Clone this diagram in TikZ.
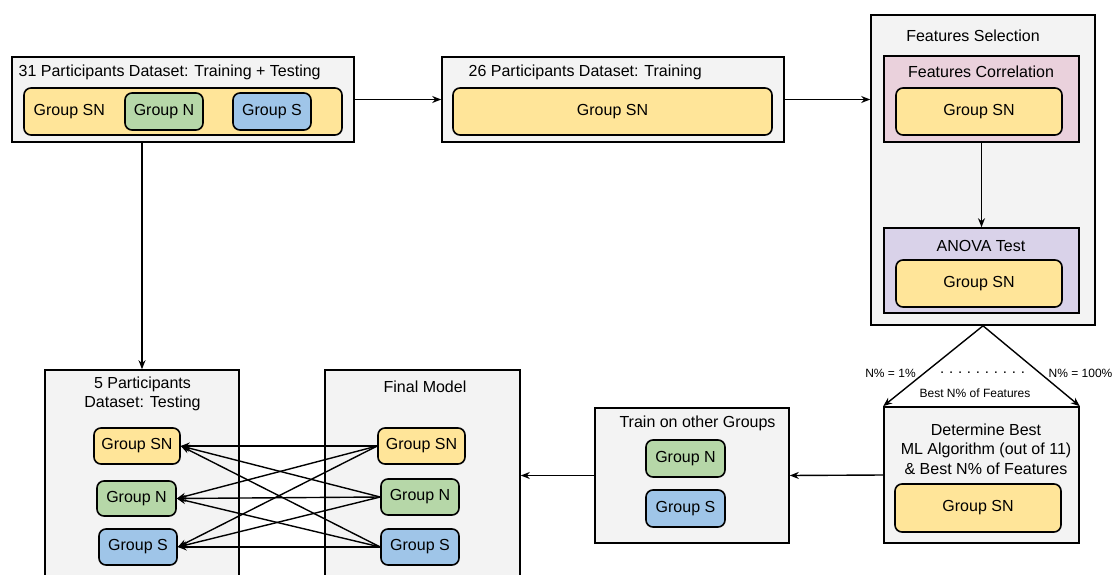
\documentclass[tikz,border=0pt]{standalone}
\usepackage{fontspec}
\setmainfont{Liberation Sans}
\usetikzlibrary{arrows.meta}
\definecolor{panelgray}{HTML}{F3F3F3}
\definecolor{snyellow}{HTML}{FFE599}
\definecolor{ngreen}{HTML}{B6D7A8}
\definecolor{sblue}{HTML}{9FC5E8}
\definecolor{corrpink}{HTML}{EAD1DC}
\definecolor{anovapurple}{HTML}{D9D2E9}
\tikzset{
  panel/.style={draw, fill=panelgray, line width=1.6pt, inner sep=0pt},
  grp/.style={draw, rounded corners=7pt, line width=1.6pt, inner sep=0pt},
  grpsn/.style={grp, fill=snyellow},
  grpn/.style={grp, fill=ngreen},
  grps/.style={grp, fill=sblue},
  small/.style={font=\fontsize{12}{14}\selectfont},
}

\begin{document}
\begin{tikzpicture}[x=1pt,y=-1pt,>={Stealth[length=9pt,width=7pt]},line width=1.4pt,font=\fontsize{16}{19.5}\selectfont]
  \clip (0,0) rectangle (1116,575);

  % 31 participants: training + testing
  \node[panel, minimum width=342, minimum height=85] (all) at (183,99.5) {};
  \node[anchor=west, inner sep=0pt] (alltitle) at (18,72) {31 Participants Dataset: Training + Testing};
  \node[grpsn, minimum width=318, minimum height=47] (allsn) at (183,111.5) {};
  \node[anchor=west, inner sep=0pt] (allsnlabel) at (33,111.5) {Group SN};
  \node[grpn, minimum width=78, minimum height=37] (alln) at (164,111.5) {Group N};
  \node[grps, minimum width=78, minimum height=37] (alls) at (272,111.5) {Group S};

  % 26 participants: training
  \node[panel, minimum width=342, minimum height=85] (train) at (613,99.5) {};
  \node[anchor=west, inner sep=0pt] (traintitle) at (468,72.5) {26 Participants Dataset: Training};
  \node[grpsn, minimum width=319, minimum height=47] (trainsn) at (612.5,111.5) {Group SN};

  % features selection
  \node[panel, minimum width=224, minimum height=310] (fs) at (983,170) {};
  \node (fstitle) at (973,36) {Features Selection};
  \node[panel, fill=corrpink, minimum width=195, minimum height=86] (corr) at (981.5,99) {};
  \node (corrtitle) at (981,72) {Features Correlation};
  \node[grpsn, minimum width=166, minimum height=47] (corrsn) at (979,111.5) {Group SN};
  \node[panel, fill=anovapurple, minimum width=195, minimum height=85] (anova) at (981.5,270.5) {};
  \node (anovatitle) at (981,245.5) {ANOVA Test};
  \node[grpsn, minimum width=166, minimum height=47] (anovasn) at (979,283.5) {Group SN};

  % best algorithm and features
  \node[panel, minimum width=195, minimum height=136] (best) at (981.5,475) {};
  \node[align=center, inner sep=0pt] (besttitle) at (986,449) {Determine Best\\ML Algorithm (out of 11)\\\& Best N\% of Features};
  \node[grpsn, minimum width=166, minimum height=48] (bestsn) at (978,508) {Group SN};

  % train on other groups
  \node[panel, minimum width=194, minimum height=135] (other) at (692,475.5) {};
  \node (othertitle) at (697.5,423) {Train on other Groups};
  \node[grpn, minimum width=79, minimum height=37] (othern) at (685.5,458.5) {Group N};
  \node[grps, minimum width=79, minimum height=37] (others) at (685.5,508.5) {Group S};

  % final model and testing
  \node[panel, minimum width=195, minimum height=230] (final) at (422.5,485) {};
  \node (finaltitle) at (425,387) {Final Model};
  \node[grpsn, minimum width=87, minimum height=36] (msn) at (421.5,446) {Group SN};
  \node[grpn, minimum width=78, minimum height=36] (mn) at (420,497) {Group N};
  \node[grps, minimum width=78, minimum height=36] (ms) at (420,547) {Group S};

  \node[panel, minimum width=194, minimum height=230] (test) at (142,485) {};
  \node[align=center, inner sep=0pt] (testtitle) at (142.5,394) {5 Participants\\Dataset: Testing};
  \node[grpsn, minimum width=86, minimum height=36] (tsn) at (137,446) {Group SN};
  \node[grpn, minimum width=79, minimum height=35] (tn) at (136.5,498.5) {Group N};
  \node[grps, minimum width=78, minimum height=36] (ts) at (138,547) {Group S};

  % labels of the N% split
  \node[small] (lowlabel) at (890.5,373) {N\% = 1\%};
  \node[small] (highlabel) at (1080.5,373) {N\% = 100\%};
  \node[font=\fontsize{15}{16}\selectfont] (dots) at (982.5,373) {.\hskip4.8pt.\hskip4.8pt.\hskip4.8pt.\hskip4.8pt.\hskip4.8pt.\hskip4.8pt.\hskip4.8pt.\hskip4.8pt.\hskip4.8pt.};
  \node[small] (bestlabel) at (975,393) {Best N\% of Features};

  \draw[->] (all.east) -- (train.west);
  \draw[->] (train.east) -- (train.east -| fs.west);
  \draw[->] (corr.south) -- (anova.north);
  \draw[->] (fs.south) -- (best.north west);
  \draw[->] (fs.south) -- (best.north east);
  \draw[->] (best.west) -- (other.east);
  \draw[->] (other.west) -- (other.west -| final.east);
  \draw[->] (all.south -| test.north) -- (test.north);
  \foreach \r in {msn,mn,ms}
    \foreach \l in {tsn,tn,ts}
      \draw[->] (\r.west) -- (\l.east);
\end{tikzpicture}
\end{document}
